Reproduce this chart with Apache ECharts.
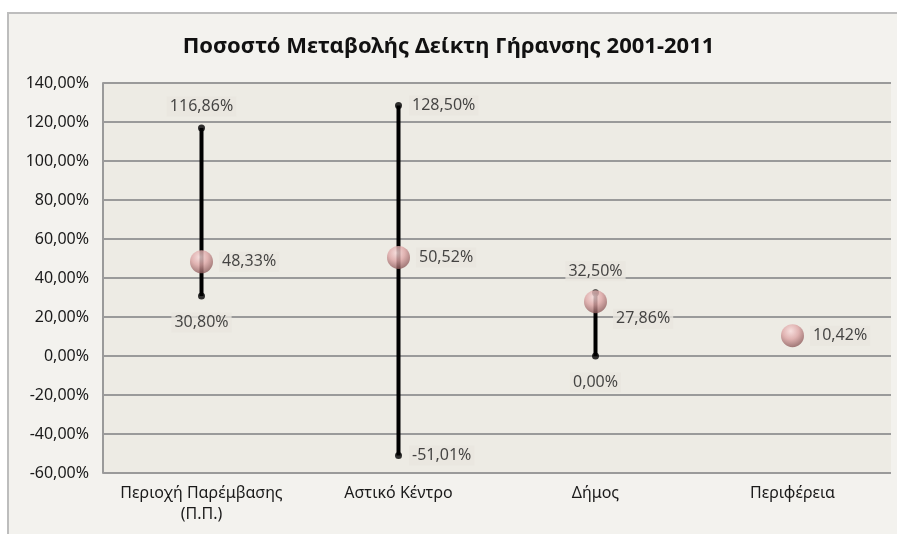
<!DOCTYPE html>
<html><head><meta charset="utf-8">
<script src="https://cdn.jsdelivr.net/npm/echarts@6/dist/echarts.min.js"></script>
<style>html,body{margin:0;padding:0;background:#fff}#c{width:897px;height:534px}</style>
</head><body><div id="c"></div>
<script>
const categories = ['Περιοχή Παρέμβασης\n(Π.Π.)', 'Αστικό Κέντρο', 'Δήμος', 'Περιφέρεια'];
const highValues = [116.86, 128.50, 32.50, null];
const lowValues = [30.80, -51.01, 0.00, null];
const meanValues = [48.33, 50.52, 27.86, 10.42];
const yTicks = { min: -60, max: 140, interval: 20 };
const titleText = 'Ποσοστό Μεταβολής Δείκτη Γήρανσης 2001-2011';

const FONT = 'Noto Sans';
const fmt = v => v.toFixed(2).replace('.', ',') + '%';
const labelBg = '#E8E6DE';

// label placement per category (style, not data)
const highPos = ['top', 'right', 'top', 'top'];
const lowPos = ['bottom', 'right', 'bottom', 'bottom'];
const meanOffset = [[0,0],[0,0],[0,17],[0,0]];

function endPoints(vals, pos, vDist) {
  return vals.map((v, i) => v == null ? null : {
    value: [i, v],
    label: { position: pos[i], distance: pos[i] === 'right' ? 7 : vDist }
  }).filter(d => d);
}

const chart = echarts.init(document.getElementById('c'), null, {renderer: 'canvas'});
const baseLabel = {
  show: true, color: '#1a1a1a', fontFamily: FONT, fontSize: 16,
  backgroundColor: labelBg, padding: [2, 3],
  formatter: p => fmt(p.value[1])
};
chart.setOption({
  backgroundColor: '#fff',
  animation: false,
  graphic: [{
    type: 'rect', z: -10, silent: true,
    shape: { x: 8, y: 13, width: 900, height: 530 },
    style: { fill: '#F3F2EE', stroke: '#BDBDBD', lineWidth: 2 }
  }],
  title: {
    text: titleText, left: 'center', top: 31,
    textStyle: { fontFamily: FONT, fontWeight: 'bold', fontSize: 22, color: '#111' }
  },
  grid: {
    left: 103, right: 6, top: 83, bottom: 61,
    show: true, backgroundColor: '#EDEBE4', borderWidth: 0
  },
  xAxis: {
    type: 'category', data: categories,
    axisLine: { show: false }, axisTick: { show: false },
    axisLabel: { interval: 0, fontFamily: FONT, fontSize: 16, color: '#1a1a1a', margin: 10, lineHeight: 21 }
  },
  yAxis: {
    type: 'value', min: yTicks.min, max: yTicks.max, interval: yTicks.interval,
    axisLine: { show: true, lineStyle: { color: '#9a9a9a', width: 2 } },
    axisTick: { show: false },
    splitLine: { lineStyle: { color: '#9a9a9a', width: 2 } },
    axisLabel: { fontFamily: FONT, fontSize: 16, color: '#1a1a1a', margin: 14, formatter: v => fmt(v) }
  },
  series: [
    {
      type: 'custom', z: 2,
      data: highValues.map((h, i) => [i, lowValues[i], h]).filter(d => d[2] != null),
      renderItem: (params, api) => {
        const a = api.coord([api.value(0), api.value(1)]);
        const b = api.coord([api.value(0), api.value(2)]);
        return { type: 'line', shape: { x1: a[0], y1: a[1], x2: b[0], y2: b[1] },
                 style: { stroke: '#000', lineWidth: 4 } };
      },
      encode: { x: 0, y: [1, 2] }
    },
    {
      type: 'scatter', z: 3, symbol: 'circle', symbolSize: 7,
      itemStyle: { color: '#000' },
      data: endPoints(highValues, highPos, 8), label: baseLabel
    },
    {
      type: 'scatter', z: 3, symbol: 'circle', symbolSize: 7,
      itemStyle: { color: '#000' },
      data: endPoints(lowValues, lowPos, 13), label: baseLabel
    },
    {
      type: 'scatter', z: 4, symbol: 'circle', symbolSize: 23,
      itemStyle: {
        color: { type: 'radial', x: 0.42, y: 0.3, r: 0.7,
          colorStops: [{ offset: 0, color: '#F9DCDC' }, { offset: 0.5, color: '#DDA5A5' }, { offset: 1, color: '#8E5C5C' }] }
      },
      data: meanValues.map((v, i) => ({ value: [i, v], label: { offset: meanOffset[i] } })),
      label: Object.assign({}, baseLabel, { position: 'right', distance: 6 })
    }
  ]
});
</script></body></html>
